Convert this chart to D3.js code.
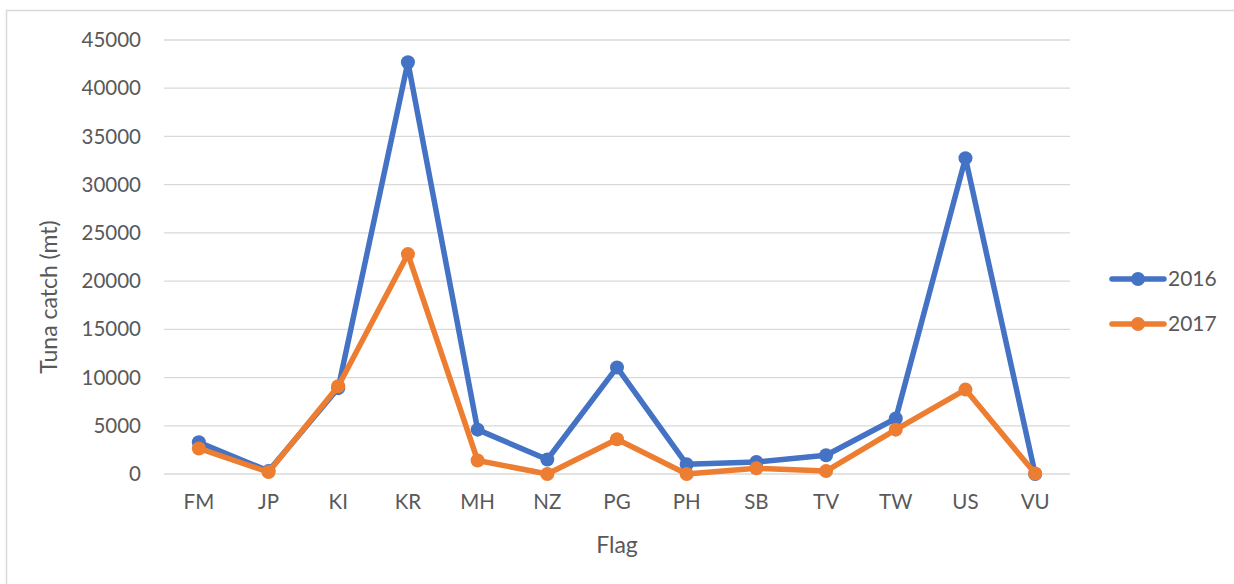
<!DOCTYPE html>
<html>
<head>
<meta charset="utf-8">
<script src="https://cdn.jsdelivr.net/npm/d3@7"></script>
<style>
  html, body { margin: 0; padding: 0; background: #fff; }
  svg { display: block; font-family: Lato, "Open Sans", sans-serif; }
</style>
</head>
<body>
<svg id="chart" width="1234" height="584"></svg>
<script>
// Tuna catch by flag, 2016 vs 2017 (metric tonnes)
const flags = ["FM", "JP", "KI", "KR", "MH", "NZ", "PG", "PH", "SB", "TV", "TW", "US", "VU"];
const catch2016 = [3300, 300, 8900, 42700, 4600, 1500, 11050, 1000, 1250, 1950, 5750, 32750, 0];
const catch2017 = [2650, 200, 9100, 22800, 1400, 0, 3600, 0, 600, 300, 4600, 8750, 50];
const yTicks = [0, 5000, 10000, 15000, 20000, 25000, 30000, 35000, 40000, 45000];
const seriesNames = ["2016", "2017"];
const seriesColors = ["#4472C4", "#ED7D31"];

const svg = d3.select("#chart");

// outer chart frame
svg.append("rect")
  .attr("x", 6.5).attr("y", 10.5)
  .attr("width", 1240).attr("height", 600)
  .attr("fill", "none").attr("stroke", "#d9d9d9").attr("stroke-width", 1.5);

const plot = { left: 164, right: 1070, top: 40, bottom: 474 };

const x = d3.scaleBand().domain(flags).range([plot.left, plot.right]);
const y = d3.scaleLinear().domain([0, 45000]).range([plot.bottom, plot.top]);

// horizontal gridlines
svg.append("g")
  .selectAll("line")
  .data(yTicks)
  .join("line")
  .attr("x1", plot.left).attr("x2", plot.right)
  .attr("y1", d => y(d)).attr("y2", d => y(d))
  .attr("stroke", "#d9d9d9").attr("stroke-width", 1.3);

// y axis labels
const yAxis = d3.axisLeft(y).tickValues(yTicks).tickSize(0).tickPadding(0).tickFormat(d3.format("d"));
const yg = svg.append("g").attr("transform", `translate(${plot.left - 23},0)`).call(yAxis);
yg.select(".domain").remove();
yg.selectAll("text").attr("fill", "#595959").style("font-size", "20.5px").style("font-family", "Lato, sans-serif");

// x axis labels
const xAxis = d3.axisBottom(x).tickSize(0).tickPadding(0);
const xg = svg.append("g").attr("transform", `translate(0,${plot.bottom + 20})`).call(xAxis);
xg.select(".domain").remove();
xg.selectAll("text").attr("fill", "#595959").style("font-size", "20.5px").style("font-family", "Lato, sans-serif");

// axis titles
svg.append("text")
  .attr("x", (plot.left + plot.right) / 2).attr("y", 553)
  .attr("text-anchor", "middle").attr("fill", "#595959")
  .style("font-size", "23px").text("Flag");

svg.append("text")
  .attr("transform", `translate(57,${(plot.top + plot.bottom) / 2 + 40}) rotate(-90)`)
  .attr("text-anchor", "middle").attr("fill", "#595959")
  .style("font-size", "23px").text("Tuna catch (mt)");

// series lines and markers
const series = [catch2016, catch2017];
const line = d3.line().x((d, i) => x(flags[i]) + x.bandwidth() / 2).y(d => y(d));

series.forEach((vals, si) => {
  const g = svg.append("g");
  g.append("path")
    .datum(vals)
    .attr("d", line)
    .attr("fill", "none")
    .attr("stroke", seriesColors[si])
    .attr("stroke-width", 5.5)
    .attr("stroke-linejoin", "round")
    .attr("stroke-linecap", "round");
  g.selectAll("circle")
    .data(vals)
    .join("circle")
    .attr("cx", (d, i) => x(flags[i]) + x.bandwidth() / 2)
    .attr("cy", d => y(d))
    .attr("r", 7)
    .attr("fill", seriesColors[si]);
});

// legend
const legend = svg.append("g");
seriesNames.forEach((name, i) => {
  const ly = 279 + i * 45;
  legend.append("line")
    .attr("x1", 1112).attr("x2", 1164).attr("y1", ly).attr("y2", ly)
    .attr("stroke", seriesColors[i]).attr("stroke-width", 5.5).attr("stroke-linecap", "round");
  legend.append("circle").attr("cx", 1138).attr("cy", ly).attr("r", 7).attr("fill", seriesColors[i]);
  legend.append("text")
    .attr("x", 1168).attr("y", ly).attr("dy", "0.35em")
    .attr("fill", "#595959").style("font-size", "21px").text(name);
});
</script>
</body>
</html>
